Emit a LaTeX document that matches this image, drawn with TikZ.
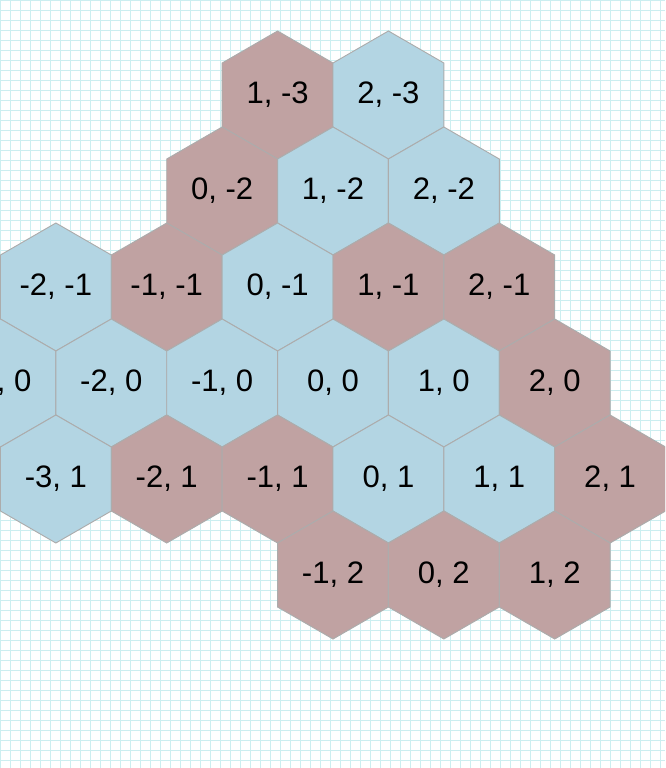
\documentclass[tikz,border=0pt]{standalone}
\usepackage{fontspec}
\setmainfont{Liberation Sans}
\usepackage{tikz}
\usetikzlibrary{shapes.geometric}
\definecolor{gridcyan}{RGB}{204,238,240}
\definecolor{cellblue}{RGB}{179,213,227}
\definecolor{cellred}{RGB}{192,162,162}
\definecolor{cellrim}{RGB}{172,172,172}

\begin{document}
\begin{tikzpicture}
  \tikzstyle{hexcell}=[regular polygon,regular polygon sides=6,regular polygon rotate=30,minimum size=3.84cm,inner sep=0pt,draw=cellrim,line width=0.8pt,font=\fontsize{26.5}{30}\selectfont]
  \tikzstyle{bluehex}=[hexcell,fill=cellblue]
  \tikzstyle{redhex}=[hexcell,fill=cellred]
  \useasboundingbox (0,0) rectangle (19.95,-23.04);
  \clip (0,0) rectangle (19.95,-23.04);
  \draw[gridcyan,line width=0.7pt,step=0.3] (0,0) grid (19.95,-23.04);
  % axial layout: q along x, r down-right
  \begin{scope}[shift={(9.99,-11.49)},x={(3.3255cm,0cm)},y={(1.66275cm,-2.88cm)}]
    \node[redhex] (h1m3) at (1,-3) {1, -3};
    \node[bluehex] (h2m3) at (2,-3) {2, -3};
    \node[redhex] (h0m2) at (0,-2) {0, -2};
    \node[bluehex] (h1m2) at (1,-2) {1, -2};
    \node[bluehex] (h2m2) at (2,-2) {2, -2};
    \node[bluehex] (hm2m1) at (-2,-1) {-2, -1};
    \node[redhex] (hm1m1) at (-1,-1) {-1, -1};
    \node[bluehex] (h0m1) at (0,-1) {0, -1};
    \node[redhex] (h1m1) at (1,-1) {1, -1};
    \node[redhex] (h2m1) at (2,-1) {2, -1};
    \node[bluehex] (hm30) at (-3,0) {-3, 0};
    \node[bluehex] (hm20) at (-2,0) {-2, 0};
    \node[bluehex] (hm10) at (-1,0) {-1, 0};
    \node[bluehex] (h00) at (0,0) {0, 0};
    \node[bluehex] (h10) at (1,0) {1, 0};
    \node[redhex] (h20) at (2,0) {2, 0};
    \node[bluehex] (hm31) at (-3,1) {-3, 1};
    \node[redhex] (hm21) at (-2,1) {-2, 1};
    \node[redhex] (hm11) at (-1,1) {-1, 1};
    \node[bluehex] (h01) at (0,1) {0, 1};
    \node[bluehex] (h11) at (1,1) {1, 1};
    \node[redhex] (h21) at (2,1) {2, 1};
    \node[redhex] (hm12) at (-1,2) {-1, 2};
    \node[redhex] (h02) at (0,2) {0, 2};
    \node[redhex] (h12) at (1,2) {1, 2};
  \end{scope}
\end{tikzpicture}
\end{document}
